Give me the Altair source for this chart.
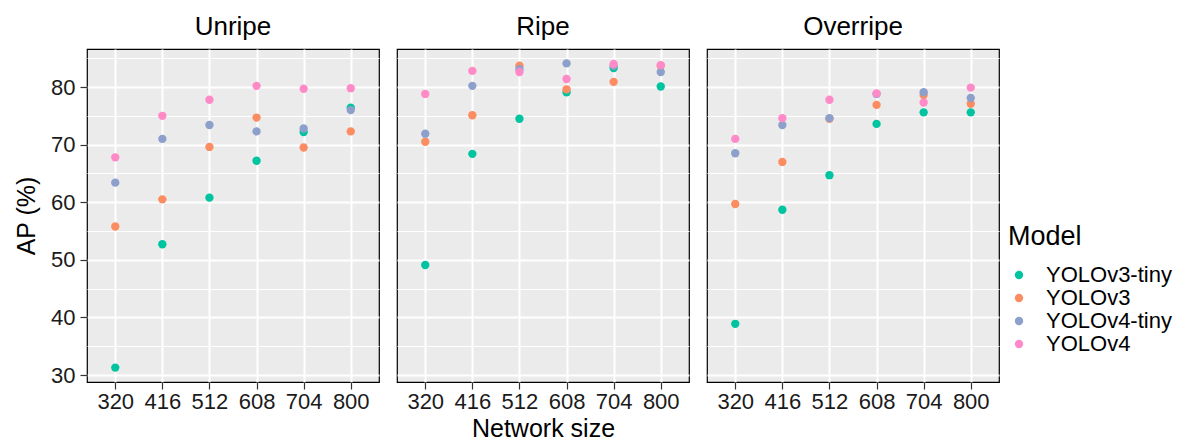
import altair as alt
import pandas as pd

sizes = [320, 416, 512, 608, 704, 800]
models = ["YOLOv3-tiny", "YOLOv3", "YOLOv4-tiny", "YOLOv4"]
stages = ["Unripe", "Ripe", "Overripe"]
colors = ["#00C4A0", "#FC8D62", "#8DA0CB", "#FF8AC8"]

unripe_v3tiny = [31.3, 52.7, 60.8, 67.2, 72.2, 76.4]
unripe_v3 = [55.8, 60.5, 69.6, 74.7, 69.5, 72.3]
unripe_v4tiny = [63.4, 71.0, 73.4, 72.3, 72.8, 76.0]
unripe_v4 = [67.8, 75.0, 77.8, 80.2, 79.7, 79.8]

ripe_v3tiny = [49.1, 68.4, 74.5, 79.1, 83.3, 80.1]
ripe_v3 = [70.5, 75.1, 83.7, 79.6, 80.9, 83.7]
ripe_v4tiny = [71.9, 80.2, 83.1, 84.1, 83.7, 82.6]
ripe_v4 = [78.8, 82.8, 82.6, 81.4, 84.0, 83.8]

over_v3tiny = [38.9, 58.7, 64.7, 73.6, 75.6, 75.6]
over_v3 = [59.7, 67.0, 74.5, 76.9, 78.6, 77.1]
over_v4tiny = [68.5, 73.4, 74.6, 78.8, 79.1, 78.1]
over_v4 = [71.0, 74.6, 77.8, 78.9, 77.3, 79.9]

series = {
    "Unripe": [unripe_v3tiny, unripe_v3, unripe_v4tiny, unripe_v4],
    "Ripe": [ripe_v3tiny, ripe_v3, ripe_v4tiny, ripe_v4],
    "Overripe": [over_v3tiny, over_v3, over_v4tiny, over_v4],
}

FONT = "Liberation Sans"
y_vals = [30, 35, 40, 45, 50, 55, 60, 65, 70, 75, 80, 85]
MAJOR = "datum.value % 10 === 0"


def panel(stage, show_y, show_xtitle):
    rows = []
    for mi, model in enumerate(models):
        for s, v in zip(sizes, series[stage][mi]):
            rows.append({"Model": model, "Size": s, "AP": v, "order": mi})
    df = pd.DataFrame(rows)

    x_axis = alt.Axis(values=sizes, grid=True, gridColor="white", gridWidth=2,
                      domain=False, tickColor="#333333", tickSize=7, tickWidth=1.2,
                      labelFontSize=22, labelColor="#1A1A1A", labelPadding=2,
                      titleFontSize=25, titleFontWeight="normal", titleColor="black",
                      titlePadding=4, labelFont=FONT, titleFont=FONT)
    if show_y:
        y_axis = alt.Axis(values=y_vals, grid=True, gridColor="white",
                          gridWidth=alt.condition(MAJOR, alt.value(2), alt.value(1)),
                          tickOpacity=alt.condition(MAJOR, alt.value(1), alt.value(0)),
                          labelExpr="datum.value % 10 === 0 ? datum.label : ''",
                          domain=False, tickColor="#333333", tickSize=7, tickWidth=1.2,
                          labelFontSize=22, labelColor="#1A1A1A", labelPadding=5,
                          titleFontSize=25, titleFontWeight="normal", titleColor="black",
                          titlePadding=11, labelFont=FONT, titleFont=FONT)
    else:
        y_axis = alt.Axis(values=y_vals, grid=True, gridColor="white",
                          gridWidth=alt.condition(MAJOR, alt.value(2), alt.value(1)),
                          labels=False, ticks=False, domain=False, title=None)

    return alt.Chart(df).mark_circle(size=70, opacity=1).encode(
        x=alt.X("Size:Q", title="Network size" if show_xtitle else None,
                scale=alt.Scale(domain=[262.4, 857.6], nice=False, zero=False),
                axis=x_axis),
        y=alt.Y("AP:Q", title="AP (%)" if show_y else None,
                scale=alt.Scale(domain=[28.8, 86.6], nice=False, zero=False),
                axis=y_axis),
        color=alt.Color("Model:N", sort=models,
                        scale=alt.Scale(domain=models, range=colors),
                        legend=alt.Legend(title="Model", titleFontSize=27, titleFontWeight="normal",
                                          titleColor="black", labelFontSize=22, labelColor="black",
                                          symbolType="circle", symbolSize=70, rowPadding=1,
                                          labelOffset=16, titlePadding=13,
                                          labelFont=FONT, titleFont=FONT,
                                          orient="none", legendX=921, legendY=175)),
        order=alt.Order("order:Q"),
    ).properties(
        width=292, height=333,
        title=alt.TitleParams(stage, fontSize=26, fontWeight="normal", color="black",
                              font=FONT, anchor="middle", offset=9),
    )


chart = alt.hconcat(
    panel("Unripe", True, False),
    panel("Ripe", False, True),
    panel("Overripe", False, False),
    spacing=16,
).configure_view(
    fill="#EBEBEB", stroke="black", strokeWidth=1.2
)

chart.save("out.html", embed_options={"renderer": "svg", "actions": False})
